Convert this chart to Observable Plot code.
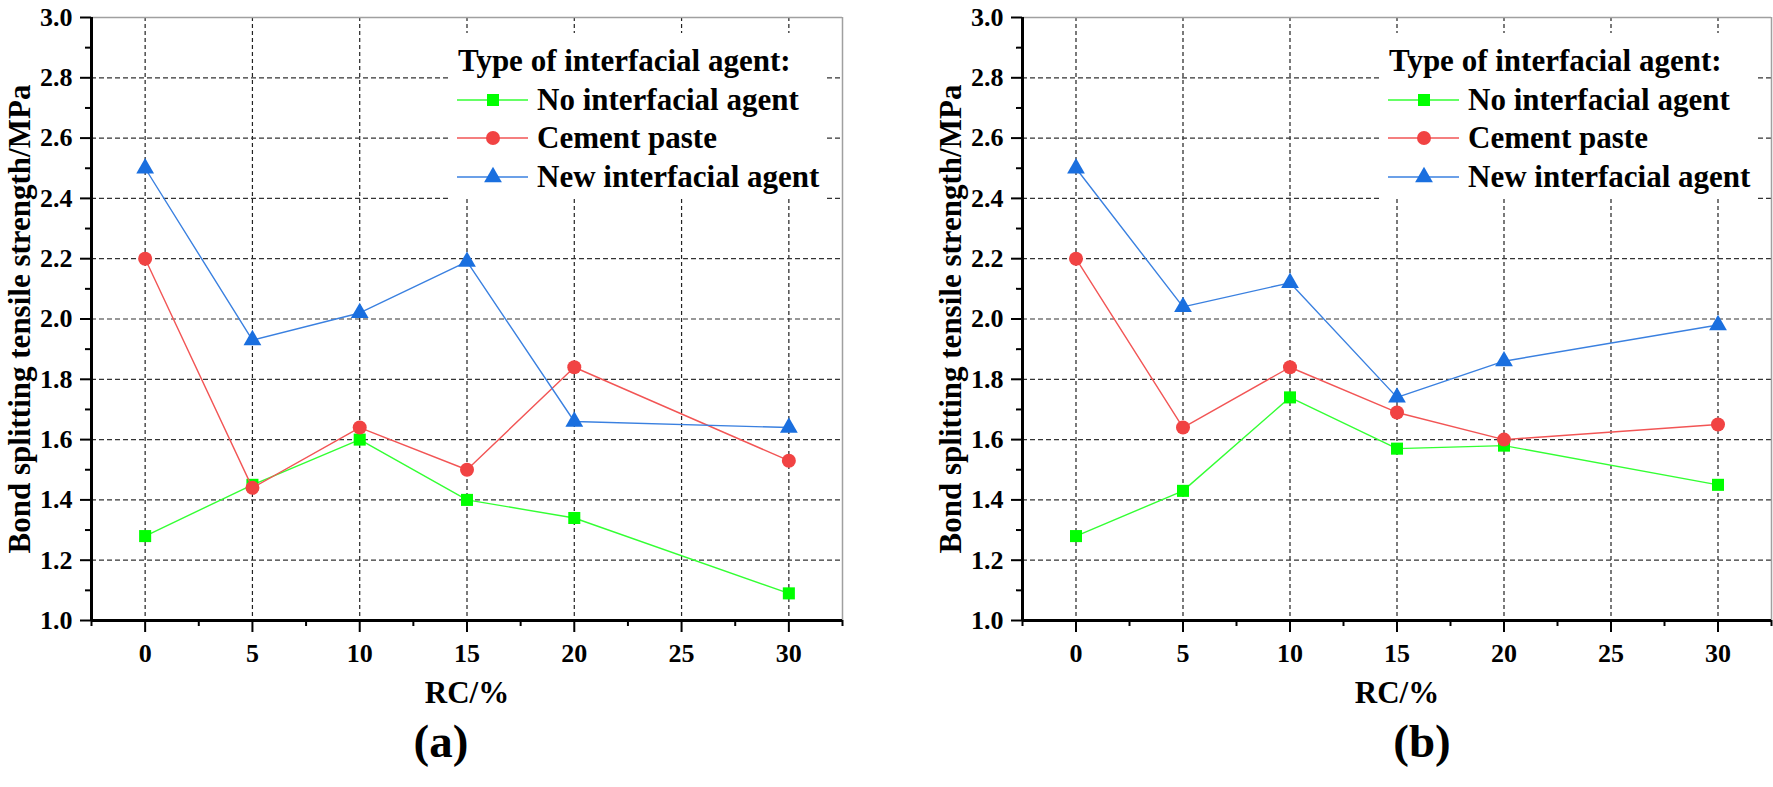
<!DOCTYPE html>
<html>
<head>
<meta charset="utf-8">
<script src="https://cdn.jsdelivr.net/npm/d3@7"></script>
<script src="https://cdn.jsdelivr.net/npm/@observablehq/plot@0.6"></script>
<style>
  html, body { margin: 0; padding: 0; background: #fff; }
  #wrap { display: flex; width: 1773px; height: 787px; }
  .panel { position: relative; height: 787px; }
  .legend { position: absolute; top: 33px; }
  svg, svg text { font-family: "Liberation Serif", "Times New Roman", serif; }
</style>
</head>
<body>
<div id="wrap"></div>
<script>
// ---- data ----
const rc = [0, 5, 10, 15, 20, 30];
const seriesNames = ["No interfacial agent", "Cement paste", "New interfacial agent"];
const legendTitle = "Type of interfacial agent:";
const yLabel = "Bond splitting tensile strength/MPa";
const xLabel = "RC/%";
const panelTags = ["(a)", "(b)"];

const aNone   = [1.28, 1.45, 1.60, 1.40, 1.34, 1.09];
const aCement = [2.20, 1.44, 1.64, 1.50, 1.84, 1.53];
const aNew    = [2.50, 1.93, 2.02, 2.19, 1.66, 1.64];

const bNone   = [1.28, 1.43, 1.74, 1.57, 1.58, 1.45];
const bCement = [2.20, 1.64, 1.84, 1.69, 1.60, 1.65];
const bNew    = [2.50, 2.04, 2.12, 1.74, 1.86, 1.98];

const xTicks = [0, 5, 10, 15, 20, 25, 30];
const xMinor = [-2.5, 2.5, 7.5, 12.5, 17.5, 22.5, 27.5, 32.5];
const yTicks = [1.0, 1.2, 1.4, 1.6, 1.8, 2.0, 2.2, 2.4, 2.6, 2.8, 3.0];
const yGrid  = [1.2, 1.4, 1.6, 1.8, 2.0, 2.2, 2.4, 2.6, 2.8];
const yMinor = [1.1, 1.3, 1.5, 1.7, 1.9, 2.1, 2.3, 2.5, 2.7, 2.9];

// ---- styles ----
const colors  = ["#00ff00", "#f14343", "#1a6fdf"];
const lineCol = ["#33ff33", "#f25555", "#3a80e0"];
const symbols = ["square", "circle", "triangle"];
const radii   = [6.8, 7, 6.6];
const FONT = "Liberation Serif";
const txt = {fontWeight: "bold", fontFamily: FONT, fill: "#000"};

function rows(vals) { return rc.map((x, i) => ({rc: x, v: vals[i]})); }

function panel(sets, tag, opts) {
  const marks = [
    Plot.gridX(xTicks, {stroke: "#222", strokeOpacity: 1, strokeWidth: 1.2, strokeDasharray: "4,3"}),
    Plot.gridY(yGrid, {stroke: "#333", strokeOpacity: 1, strokeWidth: 1.2, strokeDasharray: "5,3"}),
    Plot.ruleY([3], {stroke: "#a0a0a0", strokeWidth: 1.5}),
    Plot.ruleX([32.5], {stroke: "#a0a0a0", strokeWidth: 1.5}),
    Plot.axisY(yTicks, {tickSize: 11, strokeWidth: 2, tickFormat: () => "", label: null}),
    Plot.axisY(yMinor, {tickSize: 6, strokeWidth: 2, tickFormat: () => "", label: null}),
    Plot.axisX(xTicks, {tickSize: 12, strokeWidth: 2, tickFormat: () => "", label: null}),
    Plot.axisX(xMinor, {tickSize: 6, strokeWidth: 2, tickFormat: () => "", label: null}),
    Plot.text(yTicks, {y: d => d, text: d3.format(".1f"), frameAnchor: "left", textAnchor: "end",
      lineAnchor: "middle", dx: -19, fontSize: 26, ...txt}),
    Plot.text(xTicks, {x: d => d, text: d => String(d), frameAnchor: "bottom", textAnchor: "middle",
      lineAnchor: "middle", dy: 33, fontSize: 26, ...txt}),
    Plot.ruleX([-2.5], {stroke: "#000", strokeWidth: 3}),
    Plot.ruleY([1], {stroke: "#000", strokeWidth: 3})
  ];
  sets.forEach((vals, k) => {
    const d = rows(vals);
    marks.push(Plot.line(d, {x: "rc", y: "v", stroke: lineCol[k], strokeWidth: 1.4}));
    marks.push(Plot.dot(d, {x: "rc", y: "v", symbol: symbols[k], fill: colors[k], r: radii[k], stroke: "none"}));
  });
  marks.push(Plot.text([yLabel], {frameAnchor: "left", textAnchor: "middle", rotate: -90, dx: -71,
    fontSize: 31, ...txt}));
  marks.push(Plot.text([xLabel], {frameAnchor: "bottom", textAnchor: "middle", dy: 82,
    fontSize: 31, ...txt}));
  marks.push(Plot.text([tag], {frameAnchor: "bottom", textAnchor: "middle", dy: 136, dx: opts.tagDx,
    fontSize: 47, ...txt}));

  return Plot.plot({
    width: opts.width, height: 787,
    marginLeft: opts.ml, marginRight: opts.mr, marginTop: 17, marginBottom: 167,
    x: {domain: [-2.5, 32.5]},
    y: {domain: [1, 3]},
    style: {fontFamily: FONT, fontWeight: "bold", color: "#000", background: "#fff"},
    marks
  });
}

function legend(left) {
  const W = 377, H = 166;
  const svg = d3.create("svg").attr("class", "legend").attr("width", W).attr("height", H)
    .style("left", left + "px");
  svg.append("rect").attr("width", W).attr("height", H).attr("fill", "#fff");
  svg.append("text").attr("x", 8).attr("y", 38).attr("font-size", 31).attr("font-weight", "bold")
    .attr("font-family", FONT).text(legendTitle);
  const cys = [67, 105, 144];
  const symMap = {square: d3.symbolSquare, circle: d3.symbolCircle, triangle: d3.symbolTriangle};
  seriesNames.forEach((name, k) => {
    const cy = cys[k];
    svg.append("line").attr("x1", 7).attr("x2", 78).attr("y1", cy).attr("y2", cy)
      .attr("stroke", lineCol[k]).attr("stroke-width", 1.6);
    svg.append("path").attr("transform", `translate(43,${cy})`)
      .attr("d", d3.symbol(symMap[symbols[k]], Math.PI * radii[k] * radii[k])())
      .attr("fill", colors[k]);
    svg.append("text").attr("x", 87).attr("y", cy + 10).attr("font-size", 31).attr("font-weight", "bold")
      .attr("font-family", FONT).text(name);
  });
  return svg.node();
}

const wrap = document.getElementById("wrap");
const configs = [
  {sets: [aNone, aCement, aNew], tag: panelTags[0], width: 886, ml: 91, mr: 44, tagDx: -26, legendLeft: 450},
  {sets: [bNone, bCement, bNew], tag: panelTags[1], width: 887, ml: 136, mr: 2, tagDx: 25, legendLeft: 495}
];
configs.forEach(c => {
  const div = document.createElement("div");
  div.className = "panel";
  div.style.width = c.width + "px";
  div.appendChild(panel(c.sets, c.tag, c));
  div.appendChild(legend(c.legendLeft));
  wrap.appendChild(div);
});
</script>
</body>
</html>
